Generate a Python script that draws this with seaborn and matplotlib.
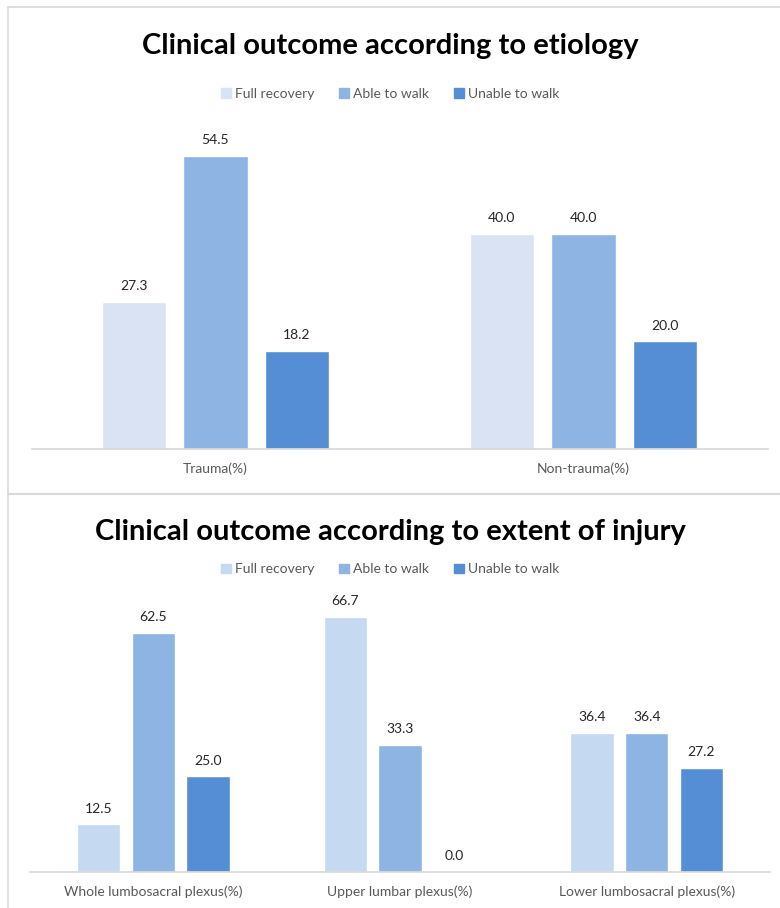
import pandas as pd
import matplotlib.pyplot as plt
import seaborn as sns
from matplotlib.lines import Line2D

# data
outcomes = ["Full recovery", "Able to walk", "Unable to walk"]

etiology_groups = ["Trauma(%)", "Non-trauma(%)"]
etiology_full = [27.3, 40.0]
etiology_able = [54.5, 40.0]
etiology_unable = [18.2, 20.0]

extent_groups = ["Whole lumbosacral plexus(%)", "Upper lumbar plexus(%)", "Lower lumbosacral plexus(%)"]
extent_full = [12.5, 66.7, 36.4]
extent_able = [62.5, 33.3, 36.4]
extent_unable = [25.0, 0.0, 27.2]

top_colors = ["#DAE3F3", "#8EB4E3", "#558ED5"]
bottom_colors = ["#C5D9F1", "#8EB4E3", "#558ED5"]


def to_long(groups, full, able, unable):
    rows = []
    for i, g in enumerate(groups):
        for name, vals in zip(outcomes, [full, able, unable]):
            rows.append({"group": g, "outcome": name, "value": vals[i]})
    return pd.DataFrame(rows)


def draw_panel(ax, df, colors, ymax, title, title_y, legend_y, fig):
    sns.barplot(data=df, x="group", y="value", hue="outcome", hue_order=outcomes,
                palette=colors, width=0.665, gap=0.21, ax=ax, legend=False,
                saturation=1, errorbar=None)
    for c in ax.containers:
        ax.bar_label(c, fmt="%.1f", padding=7, fontsize=10, color="#262626")
    ax.set_ylim(0, ymax)
    ax.set_xlim(-0.5, len(df["group"].unique()) - 0.5)
    ax.set_xlabel("")
    ax.set_ylabel("")
    ax.set_yticks([])
    ax.tick_params(axis="x", length=0, pad=10, labelsize=10, labelcolor="#595959")
    sns.despine(ax=ax, left=True)
    ax.spines["bottom"].set_color("#D9D9D9")

    fig.text(0.5, title_y, title, ha="center", va="center", fontsize=21, fontweight="bold",
             color="black")
    handles = [plt.Rectangle((0, 0), 1, 1, color=c) for c in colors]
    fig.legend(handles, outcomes, loc="center", bbox_to_anchor=(0.5, legend_y), ncol=3,
               frameon=False, fontsize=10, labelcolor="#595959", handlelength=0.7,
               handleheight=0.7, handletextpad=0.3, columnspacing=1.8)


sns.set_theme(style="white")
plt.rcParams["font.family"] = ["Lato", "DejaVu Sans"]

fig = plt.figure(figsize=(7.8, 9.08), dpi=100)

ax1 = fig.add_axes([0.0404, 0.5055, 0.9436, 0.3557])
draw_panel(ax1, to_long(etiology_groups, etiology_full, etiology_able, etiology_unable),
           top_colors, 60, "Clinical outcome according to etiology", 0.949, 0.897, fig)

ax2 = fig.add_axes([0.0385, 0.0396, 0.9487, 0.2948])
draw_panel(ax2, to_long(extent_groups, extent_full, extent_able, extent_unable),
           bottom_colors, 70, "Clinical outcome according to extent of injury", 0.414, 0.373, fig)

# panel borders
border = "#D9D9D9"
fig.add_artist(Line2D([0.0103, 1.0], [0.992, 0.992], color=border, lw=1.2))
fig.add_artist(Line2D([0.0103, 0.0103], [0.0, 0.992], color=border, lw=1.2))
fig.add_artist(Line2D([0.0103, 1.0], [0.456, 0.456], color=border, lw=1.5))

fig.savefig("out.png", dpi=100)
